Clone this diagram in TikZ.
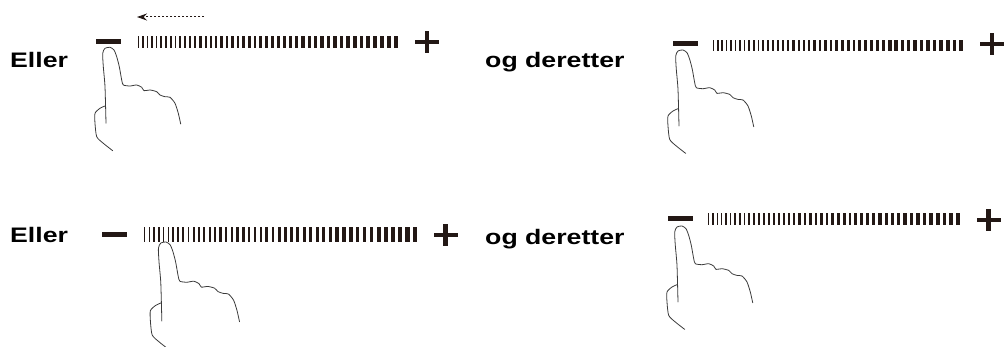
\documentclass[tikz,border=0pt]{standalone}
\usepackage{fontspec}
\setmainfont{Liberation Sans}
\newfontfamily\labelfont[FakeStretch=1.27]{Liberation Sans}
\usepackage{xcolor}
\usepackage{tikz}
\usetikzlibrary{arrows.meta}
\definecolor{inkc}{HTML}{231815}
\definecolor{handc}{HTML}{3A3A3A}
\tikzset{
  ink/.style={fill=inkc},
  handline/.style={draw=handc, line width=0.8pt, line join=round, line cap=round},
  label/.style={anchor=base west, inner sep=0pt, font=\labelfont\bfseries\fontsize{21}{21}\selectfont},
  % volume bar, 260 long and 12 high, marks growing to the right
  bar/.pic={
    \foreach \i in {0,...,45}{
      \pgfmathsetmacro\xl{\i*3.07+1.3*\i+0.03*\i*(\i-1)}
      \pgfmathsetmacro\w{1.3+0.06*\i}
      \fill[ink] (\xl,-6) rectangle ++(\w,12);
    }
  },
  minus/.pic={\fill[ink] (-12.5,-2.5) rectangle (12.5,2.5);},
  plus/.pic={
    \fill[ink] (-12,-2.3) rectangle (12,2.3);
    \fill[ink] (-2.3,-11) rectangle (2.3,11);
  },
  % hand, origin at the fingertip
  hand/.pic={
    \draw[handline] plot[smooth, tension=0.4] coordinates {(-4,76) (-5,39.4) (-6.7,19.4) (-7.3,6) (-5,1) (0,0) (4,2.7) (6.7,9.4) (9.3,19.4) (11.7,32.7) (13.3,37.7) (20,38.7) (26.7,37.7) (31.7,40) (34,43.4) (40,42.7) (46.7,44.4) (50,47.7) (55,49.4) (60,50) (65,56) (68.3,66) (70.7,76.7)};
    \draw[handline] plot[smooth, tension=0.4] coordinates {(-5,58.7) (-10,61) (-15,66) (-15,76) (-13.3,89.4) (-6.7,96) (2.7,103.4)};
  }
}
\begin{document}
\begin{tikzpicture}[x=1pt, y=-1pt]
  \useasboundingbox (0,0) rectangle (1007,347);

  % top left: press minus
  \node[label] (eller1) at (10,68) {Eller};
  \pic (minus1) at (108.5,42) {minus};
  \pic (bar1) at (138,42) {bar};
  \pic (plus1) at (427,42) {plus};
  \pic (hand1) at (110,47.3) {hand};
  \coordinate (arrS) at (204,17);
  \coordinate (arrE) at (137,17);
  \draw[inkc, line width=1pt, dash pattern=on 2.5pt off 1.5pt, -{Stealth[length=10pt, width=7pt]}] (arrS) -- (arrE);

  % top right
  \node[label] (deretter1) at (485,68) {og deretter};
  \pic (minus2) at (685,44) {minus};
  \pic[xscale=0.962, yscale=0.95] (bar2) at (713,45.5) {bar};
  \pic (plus2) at (992,44) {plus};
  \pic (hand2) at (683,50) {hand};

  % bottom left: press on the bar
  \node[label] (eller2) at (10,243) {Eller};
  \pic (minus3) at (114.5,235) {minus};
  \pic[xscale=1.05, yscale=1.17] (bar3) at (144,234.5) {bar};
  \pic (plus3) at (445.5,235) {plus};
  \pic[scale=1.04] (hand3) at (166,242) {hand};

  % bottom right
  \node[label] (deretter2) at (485,245) {og deretter};
  \pic (minus4) at (680,219) {minus};
  \pic[xscale=0.969] (bar4) at (708,219.5) {bar};
  \pic (plus4) at (988.5,220) {plus};
  \pic (hand4) at (682,226) {hand};
\end{tikzpicture}
\end{document}
